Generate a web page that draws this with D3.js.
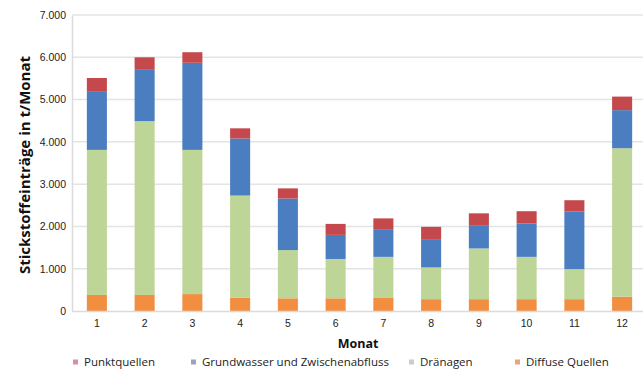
<!DOCTYPE html>
<html><head><meta charset="utf-8">
<script src="https://cdn.jsdelivr.net/npm/d3@7"></script>
<style>body{margin:0;background:#fff;} svg{display:block;font-family:"Open Sans","Noto Sans",sans-serif;}</style>
</head><body>
<svg id="c" width="643" height="376"></svg>
<script>
const months = ["1","2","3","4","5","6","7","8","9","10","11","12"];
const diffuseQuellen = [380,380,400,310,300,300,320,280,280,280,280,340];
const draenagen = [3430,4110,3410,2420,1140,930,960,750,1200,1000,710,3510];
const grundwasser = [1390,1230,2060,1350,1220,570,640,670,550,790,1360,900];
const punktquellen = [310,280,250,240,240,260,270,290,280,290,270,320];
const seriesNames = ["Diffuse Quellen","Dränagen","Grundwasser und Zwischenabfluss","Punktquellen"];
const seriesColors = ["#f28e40","#bdd596","#4a7ec0","#c5494c"];
const legendOrder = ["Punktquellen","Grundwasser und Zwischenabfluss","Dränagen","Diffuse Quellen"];
const legendColors = {"Punktquellen":"#d88fa5","Grundwasser und Zwischenabfluss":"#9aa3b8","Dränagen":"#c9cfc2","Diffuse Quellen":"#f0a27a"};
const yTicks = [0,1000,2000,3000,4000,5000,6000,7000];

const svg = d3.select("#c");
const x = d3.scaleBand().domain(months).range([73,646]).paddingInner(0.58).paddingOuter(0.29);
const y = d3.scaleLinear().domain([0,7000]).range([311,15]);

// gridlines
svg.append("g").selectAll("line").data(yTicks.slice(1)).join("line")
  .attr("x1",72).attr("x2",643).attr("y1",d=>y(d)).attr("y2",d=>y(d))
  .attr("stroke","#e4e4e4").attr("stroke-width",1.5);

// y axis
const yAxis = d3.axisLeft(y).tickValues(yTicks).tickSize(0).tickPadding(6)
  .tickFormat(d=>d===0?"0":d3.format(",")(d).replace(/,/g,"."));
const gy = svg.append("g").attr("transform","translate(72,0)").call(yAxis);
gy.select(".domain").attr("stroke","#dcdcdc").attr("stroke-width",1.5);
gy.selectAll("text").attr("font-size",10.5).attr("fill","#222");

// stacked bars
const table = months.map((m,i)=>({month:m,
  "Diffuse Quellen":diffuseQuellen[i],"Dränagen":draenagen[i],
  "Grundwasser und Zwischenabfluss":grundwasser[i],"Punktquellen":punktquellen[i]}));
const stack = d3.stack().keys(seriesNames)(table);
svg.append("g").selectAll("g").data(stack).join("g")
  .attr("fill",(d,i)=>seriesColors[i])
  .selectAll("rect").data(d=>d).join("rect")
  .attr("x",d=>x(d.data.month)).attr("width",x.bandwidth())
  .attr("y",d=>y(d[1])).attr("height",d=>y(d[0])-y(d[1]));

// x axis
const xAxis = d3.axisBottom(x).tickSize(0).tickPadding(9);
const gx = svg.append("g").attr("transform","translate(0,311)").call(xAxis);
gx.select(".domain").attr("d","M72,0.5H643").attr("stroke","#d6dbe4").attr("stroke-width",1.5);
gx.selectAll("text").attr("font-size",10.5).attr("fill","#222");

// axis titles
svg.append("text").attr("x",358).attr("y",348).attr("text-anchor","middle")
  .attr("font-size",12.5).attr("font-weight","bold").attr("fill","#111").text("Monat");
svg.append("text").attr("transform","translate(30,165) rotate(-90)").attr("text-anchor","middle")
  .attr("font-size",15).attr("font-weight","bold").attr("fill","#111").text("Stickstoffeinträge in t/Monat");

// legend
const legX = {"Punktquellen":73,"Grundwasser und Zwischenabfluss":191,"Dränagen":409,"Diffuse Quellen":515};
const lg = svg.append("g").selectAll("g").data(legendOrder).join("g")
  .attr("transform",d=>`translate(${legX[d]},366)`);
lg.append("rect").attr("x",0).attr("y",-6.5).attr("width",5).attr("height",5).attr("fill",d=>legendColors[d]);
lg.append("text").attr("x",11).attr("y",0).attr("font-size",11.5).attr("fill","#222").text(d=>d);
</script>
</body></html>
